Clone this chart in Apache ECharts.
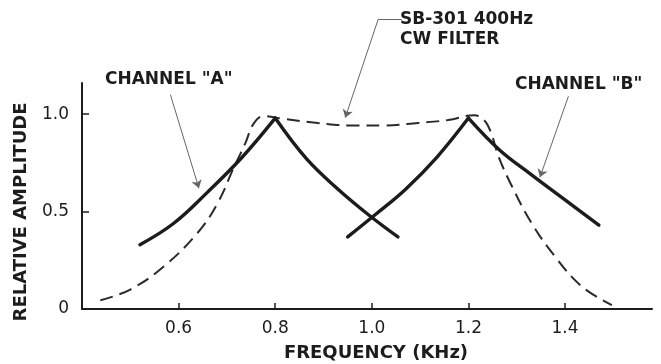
<!DOCTYPE html>
<html>
<head>
<meta charset="utf-8">
<title>SB-301 CW filter response</title>
<script src="https://cdn.jsdelivr.net/npm/echarts/dist/echarts.min.js"></script>
<style>
  html, body { margin: 0; padding: 0; background: #fff; }
  #chart { width: 661px; height: 364px; }
</style>
</head>
<body>
<div id="chart"></div>
<script>
// frequency (kHz) / relative amplitude
var chanA_rise = [[0.52, 0.33], [0.59, 0.44], [0.66, 0.60], [0.73, 0.775], [0.80, 0.98]];
var chanA_fall = [[0.80, 0.98], [0.865, 0.77], [0.93, 0.615], [0.995, 0.48], [1.054, 0.37]];
var chanB_rise = [[0.95, 0.37], [1.01, 0.49], [1.07, 0.615], [1.135, 0.78], [1.20, 0.98]];
var chanB_fall = [[1.20, 0.98], [1.265, 0.815], [1.33, 0.69], [1.40, 0.56], [1.47, 0.43]];
var cwFilter = [
    [0.438, 0.045], [0.50, 0.10], [0.57, 0.22], [0.639, 0.39], [0.68, 0.54], [0.715, 0.73],
    [0.738, 0.85], [0.755, 0.95], [0.776, 0.99], [0.819, 0.975], [0.888, 0.955], [0.957, 0.942],
    [1.026, 0.942], [1.096, 0.955], [1.158, 0.97], [1.212, 0.995], [1.232, 0.97], [1.246, 0.91],
    [1.262, 0.785], [1.29, 0.63], [1.331, 0.44], [1.379, 0.27], [1.435, 0.115], [1.497, 0.02]
];
var xTicks = { 0.6: '0.6', 0.8: '0.8', 1.0: '1.0', 1.2: '1.2', 1.4: '1.4' };
var yTicks = { 0: '0', 0.5: '0.5', 1: '1.0' };

// leader lines for the callouts (data space, arrow at the last point)
var arrowLeaders = [
    [[0.583, 1.10], [0.642, 0.62]],
    [[1.013, 1.486], [0.945, 0.982]],
    [[1.407, 1.092], [1.348, 0.676]]
];
var plainLeaders = [[[1.062, 1.486], [1.013, 1.486]]];

var ink = '#1c1c1c';
var font = 'DejaVu Sans';

function curve(name, data, dashed) {
    return {
        name: name,
        type: 'line',
        data: data,
        smooth: 0.4,
        symbol: 'none',
        silent: true,
        lineStyle: dashed
            ? { color: '#2a2a2a', width: 2, type: [13, 7] }
            : { color: ink, width: 3.4, cap: 'round', join: 'round' }
    };
}

var chart = echarts.init(document.getElementById('chart'), null, { renderer: 'canvas' });

var options = {
    backgroundColor: '#fff',
    animation: false,
    grid: { left: 82, right: 9, top: 83, bottom: 55, containLabel: false, outerBoundsMode: 'none' },
    xAxis: {
        type: 'value',
        min: 0.4,
        max: 1.58,
        interval: 0.2,
        name: 'FREQUENCY (KHz)',
        nameLocation: 'middle',
        nameGap: 35,
        nameTextStyle: { fontFamily: font, fontWeight: 'bold', fontSize: 18, color: ink, padding: [0, 0, 0, 18] },
        splitLine: { show: false },
        axisLine: { lineStyle: { color: ink, width: 2 } },
        axisTick: { inside: true, length: 6, lineStyle: { color: ink, width: 1.5 } },
        axisLabel: {
            showMaxLabel: false,
            margin: 11,
            fontFamily: font,
            fontSize: 17,
            color: ink,
            formatter: function (v) { return xTicks[Math.round(v * 10) / 10] || ''; }
        }
    },
    yAxis: {
        type: 'value',
        min: 0,
        max: 1.16,
        interval: 0.5,
        name: 'RELATIVE AMPLITUDE',
        nameLocation: 'middle',
        nameGap: 52,
        nameRotate: 90,
        nameTextStyle: { fontFamily: font, fontWeight: 'bold', fontSize: 18, color: ink, padding: [0, 32, 0, 0] },
        splitLine: { show: false },
        axisLine: { lineStyle: { color: ink, width: 2 } },
        axisTick: { inside: true, length: 7, lineStyle: { color: ink, width: 1.5 } },
        axisLabel: {
            showMaxLabel: false,
            margin: 13,
            fontFamily: font,
            fontSize: 17,
            color: ink,
            formatter: function (v) { return yTicks[Math.round(v * 10) / 10] || ''; }
        }
    },
    series: [
        curve('CW FILTER', cwFilter, true),
        curve('CHANNEL A', chanA_rise),
        curve('CHANNEL A', chanA_fall),
        curve('CHANNEL B', chanB_rise),
        curve('CHANNEL B', chanB_fall),
        {
            type: 'lines',
            coordinateSystem: 'cartesian2d',
            clip: false,
            silent: true,
            symbol: ['none', 'arrow'],
            symbolSize: 8,
            lineStyle: { color: '#666', width: 1, opacity: 1 },
            data: arrowLeaders.map(function (c) { return { coords: c }; })
        },
        {
            type: 'lines',
            coordinateSystem: 'cartesian2d',
            clip: false,
            silent: true,
            symbol: 'none',
            lineStyle: { color: '#666', width: 1, opacity: 1 },
            data: plainLeaders.map(function (c) { return { coords: c }; })
        }
    ],
    graphic: [
        { type: 'text', left: 105, top: 71, style: { text: 'CHANNEL "A"', font: 'bold 17px "DejaVu Sans"', fill: ink } },
        { type: 'text', left: 515, top: 76, style: { text: 'CHANNEL "B"', font: 'bold 17px "DejaVu Sans"', fill: ink } },
        { type: 'text', left: 400, top: 11, style: { text: 'SB-301 400Hz', font: 'bold 17px "DejaVu Sans"', fill: ink } },
        { type: 'text', left: 400, top: 31, style: { text: 'CW FILTER', font: 'bold 17px "DejaVu Sans"', fill: ink } }
    ]
};

chart.setOption(options);
</script>
</body>
</html>
